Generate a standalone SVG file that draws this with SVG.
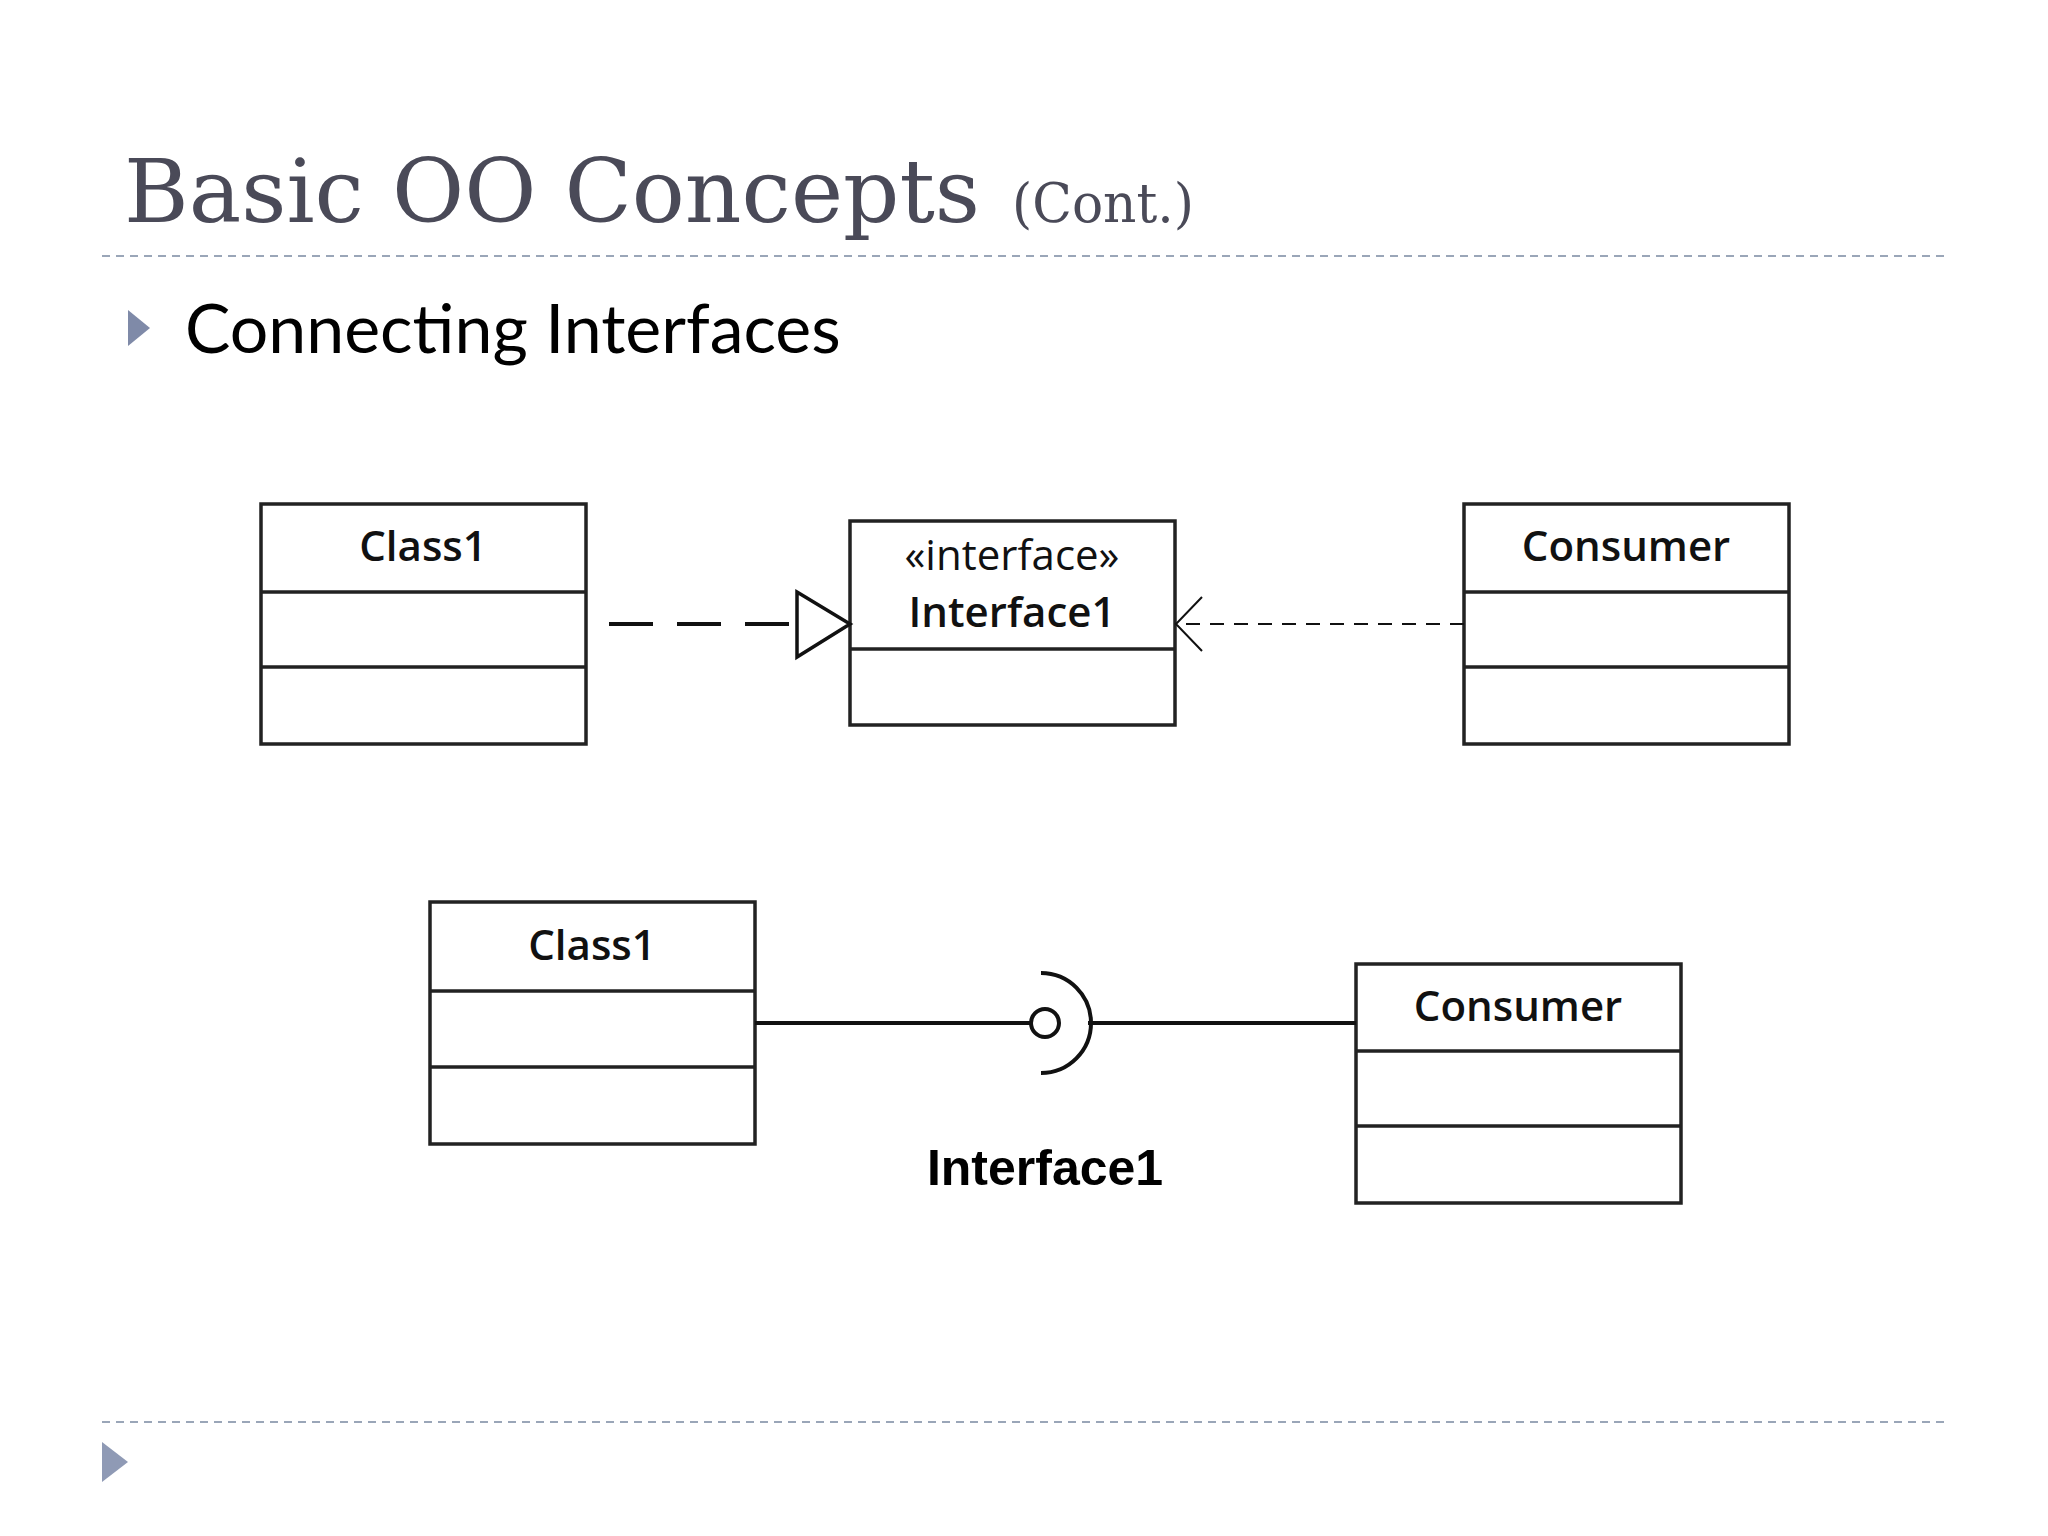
<svg xmlns="http://www.w3.org/2000/svg" width="2048" height="1536" viewBox="0 0 2048 1536">
<style>
.box{fill:none;stroke:#222;stroke-width:3.5}
.cn{font-family:"Open Sans","DejaVu Sans",sans-serif;font-weight:600;font-size:42px;fill:#111;text-anchor:middle}
.ln{stroke:#111;fill:none}
</style>
<rect width="2048" height="1536" fill="#fff"/>
<text x="124" y="222" font-family="DejaVu Serif,serif" font-size="88" fill="#4a4a58" textLength="856" lengthAdjust="spacingAndGlyphs">Basic OO Concepts</text>
<text x="1012" y="222" font-family="DejaVu Serif,serif" font-size="54" fill="#4a4a58" textLength="182" lengthAdjust="spacingAndGlyphs">(Cont.)</text>
<line x1="102" y1="256" x2="1946" y2="256" stroke="#9aa6b8" stroke-width="2" stroke-dasharray="8,6"/>
<polygon points="128,310 150,328 128,346" fill="#7f8aa8"/>
<text x="185" y="353" font-family="Lato,'Open Sans',sans-serif" font-size="68" fill="#000">Connecting Interfaces</text>
<line x1="102" y1="1422" x2="1946" y2="1422" stroke="#9aa6b8" stroke-width="2" stroke-dasharray="8,6"/>
<polygon points="102,1442 128,1462 102,1482" fill="#8f9ab5"/>
<g id="class1-top"><rect class="box" x="261" y="504" width="325" height="240"/><line class="box" x1="261" y1="592" x2="586" y2="592"/><line class="box" x1="261" y1="667" x2="586" y2="667"/><text class="cn" x="423" y="561">Class1</text></g>
<g id="interface1-top"><rect class="box" x="850" y="521" width="325" height="204"/><line class="box" x1="850" y1="649" x2="1175" y2="649"/><text class="cn" x="1012" y="570" style="font-weight:400">«interface»</text><text class="cn" x="1012" y="627">Interface1</text></g>
<g id="consumer-top"><rect class="box" x="1464" y="504" width="325" height="240"/><line class="box" x1="1464" y1="592" x2="1789" y2="592"/><line class="box" x1="1464" y1="667" x2="1789" y2="667"/><text class="cn" x="1626" y="561">Consumer</text></g>
<g id="class1-bottom"><rect class="box" x="430" y="902" width="325" height="242"/><line class="box" x1="430" y1="991" x2="755" y2="991"/><line class="box" x1="430" y1="1067" x2="755" y2="1067"/><text class="cn" x="592" y="960">Class1</text></g>
<g id="consumer-bottom"><rect class="box" x="1356" y="964" width="325" height="239"/><line class="box" x1="1356" y1="1051" x2="1681" y2="1051"/><line class="box" x1="1356" y1="1126" x2="1681" y2="1126"/><text class="cn" x="1518" y="1021">Consumer</text></g>
<g id="connectors">
<line class="ln" x1="609" y1="624" x2="797" y2="624" stroke-width="4" stroke-dasharray="44,24"/>
<polygon points="797,592 850,624 797,657" fill="#fff" stroke="#111" stroke-width="3.5"/>
<line class="ln" x1="1464" y1="624" x2="1177" y2="624" stroke-width="2" stroke-dasharray="14,10"/>
<polyline class="ln" points="1202,597 1176,624 1202,651" stroke-width="2"/>
<line class="ln" x1="755" y1="1023" x2="1031" y2="1023" stroke-width="4"/>
<circle cx="1045" cy="1023" r="14" fill="#fff" stroke="#111" stroke-width="4"/>
<path class="ln" d="M1041,973 A50,50 0 0 1 1041,1073" stroke-width="4"/>
<line class="ln" x1="1088" y1="1023" x2="1356" y2="1023" stroke-width="4"/>
<text x="1045" y="1185" font-family="Liberation Sans,Arial,sans-serif" font-weight="bold" font-size="50" text-anchor="middle" fill="#000">Interface1</text>
</g>
</svg>
